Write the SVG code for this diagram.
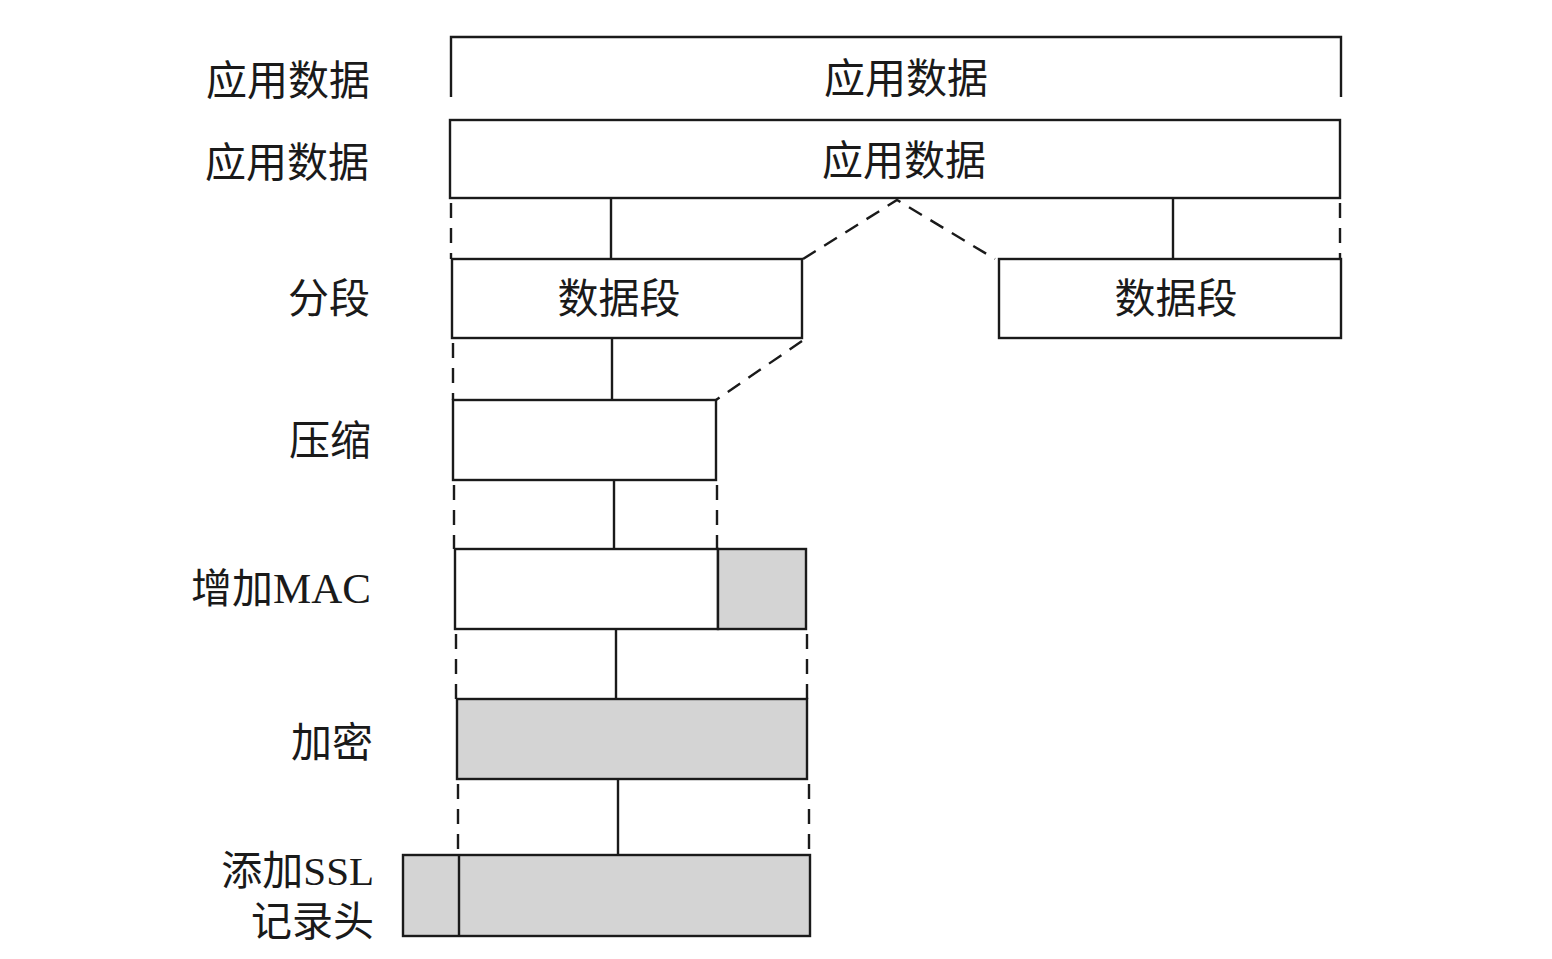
<svg xmlns="http://www.w3.org/2000/svg" width="1552" height="959" viewBox="0 0 1552 959">
<style>
.box{fill:#ffffff;stroke:#1a1a1a;stroke-width:2.4}
.gray{fill:#d4d4d4;stroke:#1a1a1a;stroke-width:2.4}
.ln{stroke:#1a1a1a;stroke-width:2.4;fill:none}
.dash{stroke:#1a1a1a;stroke-width:2.4;fill:none;stroke-dasharray:15 10}
.cj{font-family:"Noto Sans CJK SC","Noto Sans",sans-serif;font-size:41px;fill:#1a1a1a}
.lab{text-anchor:end}
.mid{text-anchor:middle}
.lat{font-family:"Liberation Serif",serif}
</style>
<rect width="1552" height="959" fill="#ffffff"/>
<g id="labels">
<text class="cj lab" x="370" y="95">应用数据</text>
<text class="cj lab" x="369" y="177">应用数据</text>
<text class="cj lab" x="370" y="313">分段</text>
<text class="cj lab" x="371" y="455">压缩</text>
<text class="cj lab" x="371" y="603">增加<tspan class="lat" font-size="43">MAC</tspan></text>
<text class="cj lab" x="373" y="757">加密</text>
<text class="cj lab" x="374" y="885" font-size="39">添加<tspan class="lat" font-size="41">SSL</tspan></text>
<text class="cj lab" x="374" y="936" font-size="39">记录头</text>
</g>
<g id="n-appdata-top">
<path class="ln" d="M451 97 V37 H1341 V97"/>
<text class="cj mid" x="906" y="93">应用数据</text>
</g>
<g id="n-appdata">
<rect class="box" x="450" y="120" width="890" height="78"/>
<text class="cj mid" x="904" y="175">应用数据</text>
</g>
<g id="n-seg1">
<rect class="box" x="452" y="259" width="350" height="79"/>
<text class="cj mid" x="619" y="313">数据段</text>
</g>
<g id="n-seg2">
<rect class="box" x="999" y="259" width="342" height="79"/>
<text class="cj mid" x="1176" y="313">数据段</text>
</g>
<g id="n-compress">
<rect class="box" x="453" y="400" width="263" height="80"/>
</g>
<g id="n-mac">
<rect class="box" x="455" y="549" width="263" height="80"/>
<rect class="gray" x="718" y="549" width="88" height="80"/>
</g>
<g id="n-encrypt">
<rect class="gray" x="457" y="699" width="350" height="80"/>
</g>
<g id="n-ssl">
<rect class="gray" x="403" y="855" width="407" height="81"/>
<line class="ln" x1="459" y1="855" x2="459" y2="936"/>
</g>
<g id="connectors">
<line class="ln" x1="611" y1="198" x2="611" y2="259"/>
<line class="ln" x1="1173" y1="198" x2="1173" y2="259"/>
<line class="dash" x1="451" y1="203" x2="451" y2="259"/>
<line class="dash" x1="1340" y1="203" x2="1340" y2="259"/>
<polyline class="dash" points="803,259 897,200 995,259"/>
<line class="ln" x1="612" y1="338" x2="612" y2="400"/>
<line class="dash" x1="453" y1="343" x2="453" y2="400"/>
<line class="dash" x1="802" y1="341" x2="716" y2="400"/>
<line class="ln" x1="614" y1="480" x2="614" y2="549"/>
<line class="dash" x1="454" y1="485" x2="454" y2="549"/>
<line class="dash" x1="717" y1="485" x2="717" y2="549"/>
<line class="ln" x1="616" y1="629" x2="616" y2="699"/>
<line class="dash" x1="456" y1="634" x2="456" y2="699"/>
<line class="dash" x1="807" y1="634" x2="807" y2="699"/>
<line class="ln" x1="618" y1="779" x2="618" y2="855"/>
<line class="dash" x1="458" y1="784" x2="458" y2="855"/>
<line class="dash" x1="809" y1="784" x2="809" y2="855"/>
</g>
</svg>
